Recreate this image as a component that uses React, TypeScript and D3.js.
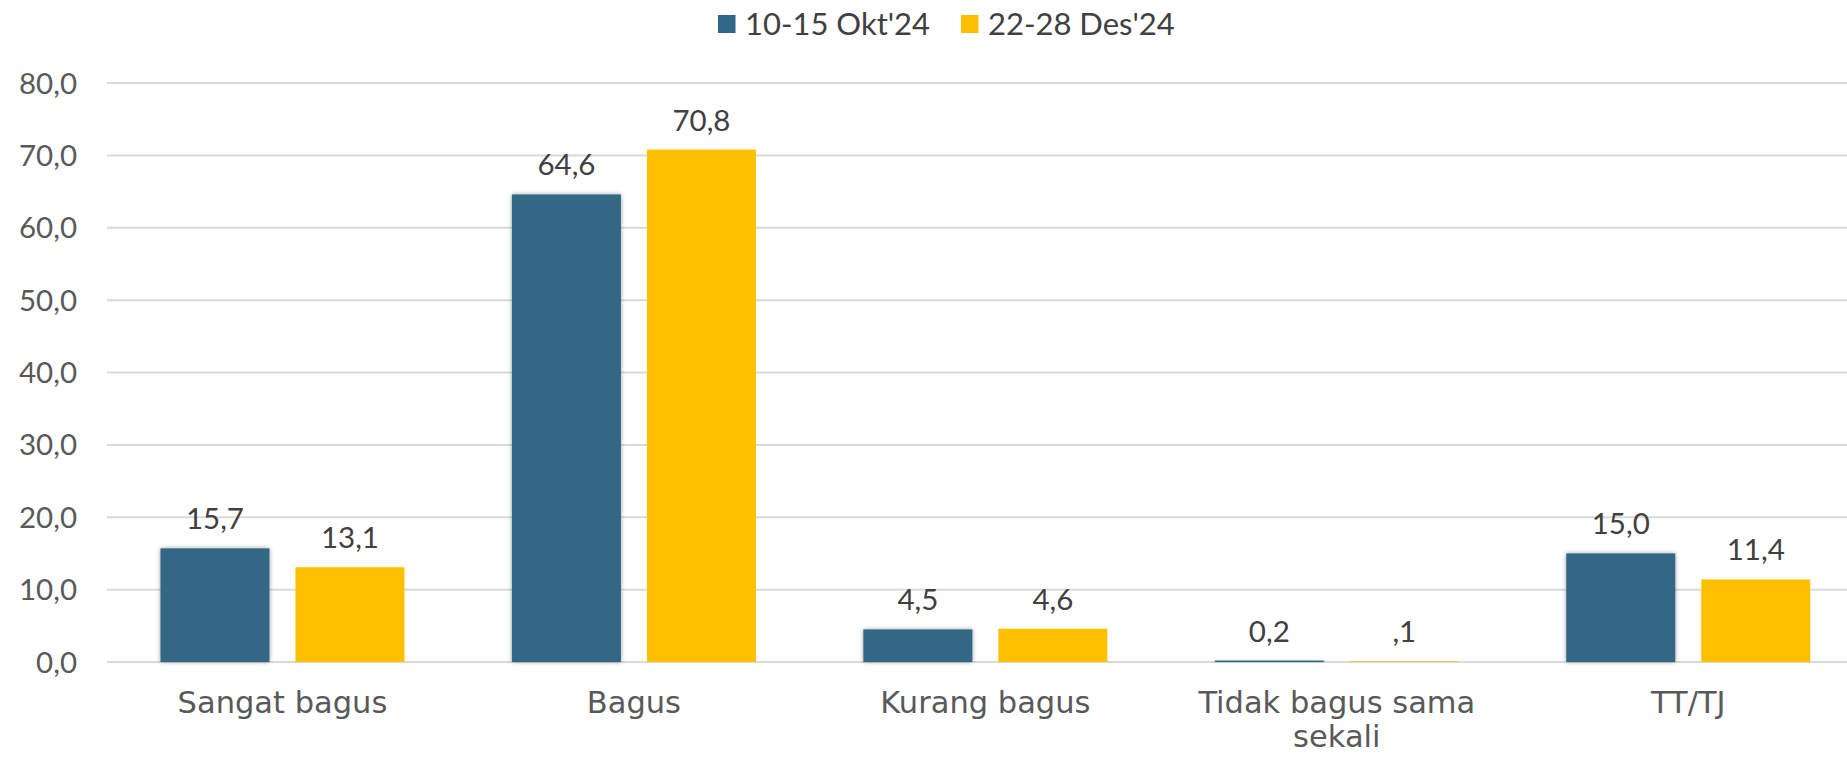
import React from "react";
import * as d3 from "d3";

const categories: string[][] = [
  ["Sangat bagus"],
  ["Bagus"],
  ["Kurang bagus"],
  ["Tidak bagus sama", "sekali"],
  ["TT/TJ"],
];
const seriesNames = ["10-15 Okt'24", "22-28 Des'24"];
const seriesColors = ["#306786", "#FFC000"];
const okt24 = [15.7, 64.6, 4.5, 0.2, 15.0];
const des24 = [13.1, 70.8, 4.6, 0.1, 11.4];
const valueLabels = [
  ["15,7", "64,6", "4,5", "0,2", "15,0"],
  ["13,1", "70,8", "4,6", ",1", "11,4"],
];
const yTicks = [0, 10, 20, 30, 40, 50, 60, 70, 80];

const W = 1847;
const H = 757;

export default function App() {
  const catKeys = categories.map((c) => c.join(" "));
  const x0 = d3.scaleBand<string>().domain(catKeys).range([106.75, 1864]).paddingInner(0).paddingOuter(0);
  const x1 = d3
    .scaleBand<string>()
    .domain(seriesNames)
    .range([0, x0.bandwidth()])
    .paddingInner(0.1926)
    .paddingOuter(0.398);
  const y = d3.scaleLinear().domain([0, 80]).range([662, 83]);
  const fmt = (v: number) => v.toFixed(1).replace(".", ",");
  const series = [okt24, des24];
  const numFont = "Lato, 'Open Sans', sans-serif";
  const catFont = "'DejaVu Sans', sans-serif";

  return (
    <svg
      width={W}
      height={H}
      style={{ position: "absolute", left: 0, top: 0, background: "#fff" }}
    >
      <defs>
        <filter id="shadow" x="-20%" y="-20%" width="140%" height="140%">
          <feDropShadow dx="0" dy="0" stdDeviation="2.2" floodColor="#000" floodOpacity="0.4" />
        </filter>
      </defs>
      <rect x={0} y={0} width={W} height={H} fill="#fff" />
      {yTicks.map((t) => (
        <g key={t}>
          <line x1={107} x2={W} y1={y(t)} y2={y(t)} stroke="#D9D9D9" strokeWidth={2} />
          <text
            x={77}
            y={y(t)}
            dy="0.36em"
            textAnchor="end"
            fontFamily={numFont}
            fontSize={29.5}
            fill="#595959"
          >
            {fmt(t)}
          </text>
        </g>
      ))}
      {series.map((vals, si) =>
        vals.map((v, ci) => {
          const bx = (x0(catKeys[ci]) as number) + (x1(seriesNames[si]) as number);
          const bw = x1.bandwidth();
          const top = y(v);
          return (
            <g key={`${si}-${ci}`}>
              <rect
                x={bx}
                y={top}
                width={bw}
                height={Math.max(0, y(0) - top)}
                fill={seriesColors[si]}
                filter={si === 0 ? "url(#shadow)" : undefined}
              />
              <text
                x={bx + bw / 2}
                y={top - 19}
                textAnchor="middle"
                fontFamily={numFont}
                fontSize={29.5}
                fill="#404040"
              >
                {valueLabels[si][ci]}
              </text>
            </g>
          );
        })
      )}
      {categories.map((lines, ci) => {
        const cx = (x0(catKeys[ci]) as number) + x0.bandwidth() / 2;
        return (
          <text
            key={ci}
            x={cx}
            y={713}
            textAnchor="middle"
            fontFamily={catFont}
            fontSize={30.5}
            fill="#595959"
          >
            {lines.map((l, li) => (
              <tspan key={li} x={cx} dy={li === 0 ? 0 : 34}>
                {l}
              </tspan>
            ))}
          </text>
        );
      })}
      {[718, 961].map((lx, i) => (
        <g key={i}>
          <rect x={lx} y={15} width={17.5} height={18} fill={seriesColors[i]} />
          <text x={lx + 27} y={35} fontFamily={numFont} fontSize={31} fill="#404040">
            {seriesNames[i]}
          </text>
        </g>
      ))}
    </svg>
  );
}
